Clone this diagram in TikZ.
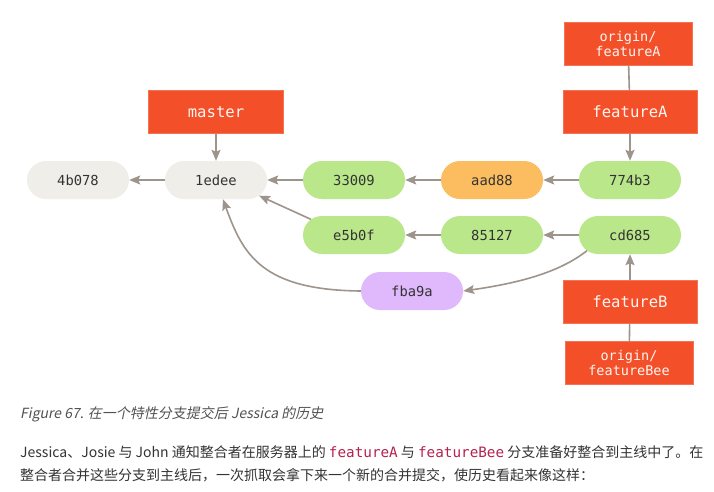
\documentclass[tikz,border=0pt]{standalone}
\usepackage{fontspec}
\setmonofont{DejaVu Sans Mono}
\newfontfamily\cjk{Noto Sans CJK SC}
\newfontfamily\cjkit[FakeSlant=0.2]{Noto Sans CJK SC}
\usetikzlibrary{shapes.misc,arrows.meta}
\definecolor{gitred}{HTML}{F34F29}
\definecolor{cgrey}{HTML}{EFEEE8}
\definecolor{cgreen}{HTML}{BAE78A}
\definecolor{corange}{HTML}{FBBD5F}
\definecolor{cpurple}{HTML}{DFB9FC}
\definecolor{arrgrey}{HTML}{9D958B}
\definecolor{txt}{HTML}{333333}
\definecolor{codered}{HTML}{B5224F}
\tikzset{
  commit/.style={rounded rectangle, minimum width=102pt, minimum height=38pt, inner sep=0pt,
    font=\fontsize{13.8}{16}\ttfamily, text=txt},
  branch/.style={rectangle, fill=gitred, draw=gitred!80!white, line width=0.6pt, minimum width=134pt, minimum height=43pt,
    inner sep=0pt, font=\fontsize{15.6}{18}\ttfamily, text=white!94!gitred},
  remote/.style={rectangle, fill=gitred, draw=gitred!80!white, line width=0.6pt, minimum width=128pt, minimum height=43pt,
    inner sep=0pt, align=center, font=\fontsize{13.5}{15.5}\selectfont\ttfamily, text=white!94!gitred},
  arr/.style={draw=arrgrey, line width=1.6pt, -{Stealth[length=11pt,width=9pt,inset=2pt]}},
  plain/.style={draw=arrgrey, line width=1.6pt},
  para/.style={anchor=base west, inner sep=0pt, text=txt, font=\cjk\fontsize{14}{18}\selectfont}
}
\newcommand{\codetxt}[1]{{\color{codered}\ttfamily\fontsize{14.3}{18}\selectfont #1}}
\begin{document}
\begin{tikzpicture}[x=1pt,y=-1pt]
\path[use as bounding box, fill=white] (0,0) rectangle (714,491);
% commits
\node[commit, fill=cgrey] (c4b078) at (78,180) {4b078};
\node[commit, fill=cgrey] (c1edee) at (216,180) {1edee};
\node[commit, fill=cgreen] (c33009) at (354,180) {33009};
\node[commit, fill=corange] (caad88) at (492,180) {aad88};
\node[commit, fill=cgreen] (c774b3) at (630,180) {774b3};
\node[commit, fill=cgreen] (ce5b0f) at (354,235) {e5b0f};
\node[commit, fill=cgreen] (c85127) at (492,235) {85127};
\node[commit, fill=cgreen] (ccd685) at (630,235) {cd685};
\node[commit, fill=cpurple] (cfba9a) at (412,291) {fba9a};
% branches
\node[branch, minimum width=135pt] (master) at (216,112) {master};
\node[branch] (featA) at (630,112) {featureA};
\node[remote] (ofeatA) at (628,44) {origin/\\featureA};
\node[branch] (featB) at (630,302) {featureB};
\node[remote] (ofeatB) at (629,363) {origin/\\featureBee};
% edges
\draw[arr] (c1edee) -- (c4b078);
\draw[arr] (c33009) -- (c1edee);
\draw[arr] (caad88) -- (c33009);
\draw[arr] (c774b3) -- (caad88);
\draw[arr] (c85127) -- (ce5b0f);
\draw[arr] (ccd685) -- (c85127);
\draw[arr] (ce5b0f.160) -- (c1edee.-20);
\draw[arr] (ccd685.-160) .. controls (560,272) and (520,283) .. (cfba9a.east);
\draw[arr] (cfba9a.west) .. controls (262,290) and (243,255) .. (c1edee.-70);
\draw[arr] (master) -- (c1edee);
\draw[arr] (featA) -- (c774b3);
\draw[arr] (featB) -- (ccd685);
\draw[plain] (ofeatA) -- (featA);
\draw[plain] (ofeatB) -- (featB);
% caption and text
\node[anchor=base west, inner sep=0pt, text=txt!85!white, font=\cjkit\fontsize{14}{18}\selectfont] (cap) at (20,418) {Figure 67. 在一个特性分支提交后 Jessica 的历史};
\node[para] (line1) at (20,457) {Jessica、Josie 与 John 通知整合者在服务器上的 \codetxt{featureA} 与 \codetxt{featureBee} 分支准备好整合到主线中了。在};
\node[para] (line2) at (20,480) {整合者合并这些分支到主线后，一次抓取会拿下来一个新的合并提交，使历史看起来像这样：};
\end{tikzpicture}
\end{document}
